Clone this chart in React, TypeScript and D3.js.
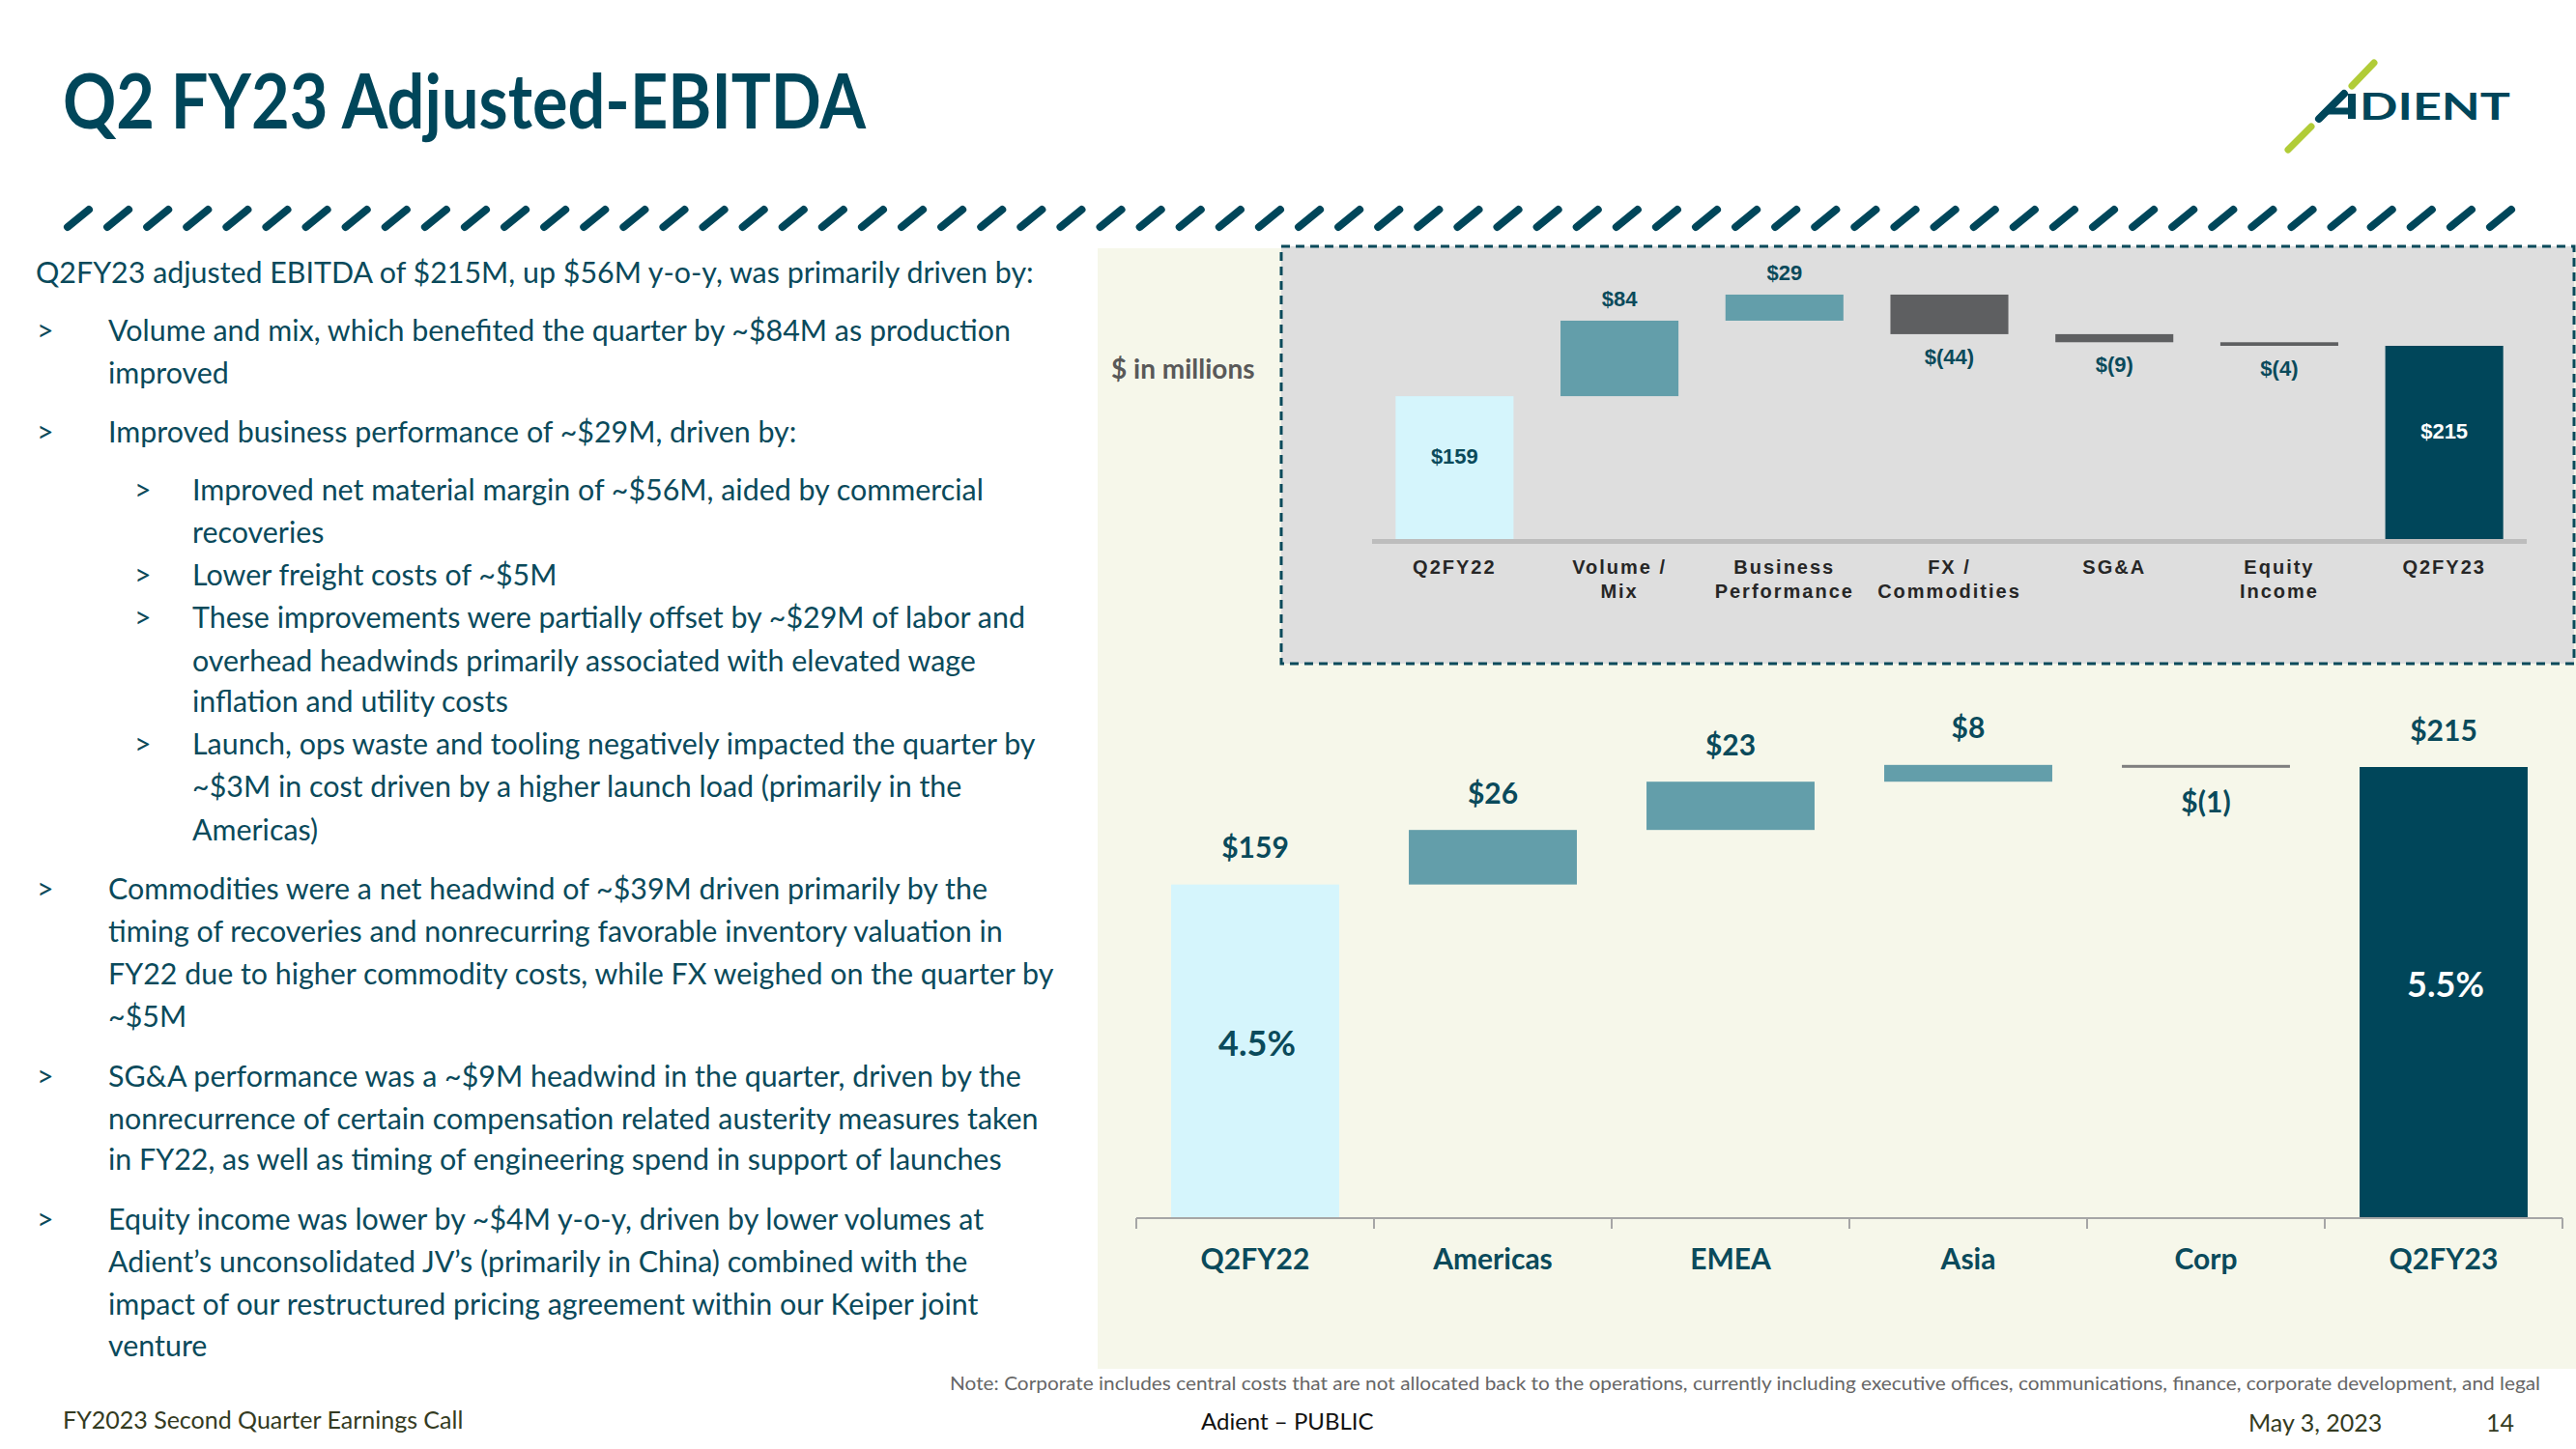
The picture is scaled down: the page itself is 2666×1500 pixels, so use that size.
import React from "react";
import * as d3 from "d3";

// ---------- DATA ----------
const mainCategories = ["Q2FY22", "Americas", "EMEA", "Asia", "Corp", "Q2FY23"];
const mainValues = [159, 26, 23, 8, -1, 215];
const mainIsTotal = [true, false, false, false, false, true];
const mainLabels = ["$159", "$26", "$23", "$8", "$(1)", "$215"];
const mainMargins = ["4.5%", "", "", "", "", "5.5%"];

const insetCategories = [["Q2FY22"], ["Volume /", "Mix"], ["Business", "Performance"], ["FX /", "Commodities"], ["SG&A"], ["Equity", "Income"], ["Q2FY23"]];
const insetValues = [159, 84, 29, -44, -9, -4, 215];
const insetIsTotal = [true, false, false, false, false, false, true];
const insetLabels = ["$159", "$84", "$29", "$(44)", "$(9)", "$(4)", "$215"];

const bodyLines: [number, boolean, string][] = [
  // [level, hasBullet, text]
  [0, false, "Q2FY23 adjusted EBITDA of $215M, up $56M y-o-y, was primarily driven by:"],
  [1, true, "Volume and mix, which benefited the quarter by ~$84M as production"],
  [1, false, "improved"],
  [1, true, "Improved business performance of ~$29M, driven by:"],
  [2, true, "Improved net material margin of ~$56M, aided by commercial"],
  [2, false, "recoveries"],
  [2, true, "Lower freight costs of ~$5M"],
  [2, true, "These improvements were partially offset by ~$29M of labor and"],
  [2, false, "overhead headwinds primarily associated with elevated wage"],
  [2, false, "inflation and utility costs"],
  [2, true, "Launch, ops waste and tooling negatively impacted the quarter by"],
  [2, false, "~$3M in cost driven by a higher launch load (primarily in the"],
  [2, false, "Americas)"],
  [1, true, "Commodities were a net headwind of ~$39M driven primarily by the"],
  [1, false, "timing of recoveries and nonrecurring favorable inventory valuation in"],
  [1, false, "FY22 due to higher commodity costs, while FX weighed on the quarter by"],
  [1, false, "~$5M"],
  [1, true, "SG&A performance was a ~$9M headwind in the quarter, driven by the"],
  [1, false, "nonrecurrence of certain compensation related austerity measures taken"],
  [1, false, "in FY22, as well as timing of engineering spend in support of launches"],
  [1, true, "Equity income was lower by ~$4M y-o-y, driven by lower volumes at"],
  [1, false, "Adient\u2019s unconsolidated JV\u2019s (primarily in China) combined with the"],
  [1, false, "impact of our restructured pricing agreement within our Keiper joint"],
  [1, false, "venture"],
];
const bodyLineY = [282, 342, 386, 447, 507, 551, 595, 639, 684, 726, 770, 814, 859, 920, 964, 1008, 1052, 1114, 1158, 1200, 1262, 1306, 1350, 1393];

const titleText = "Q2 FY23 Adjusted-EBITDA";
const noteText = "Note: Corporate includes central costs that are not allocated back to the operations, currently including executive offices, communications, finance, corporate development, and legal";
const footerLeft = "FY2023 Second Quarter Earnings Call";
const footerCenter = "Adient \u2013 PUBLIC";
const footerDate = "May 3, 2023";
const footerPage = "14";
const slashCount = 62;

// ---------- STYLE ----------
const TEAL = "#0A4A5B";
const DARK = "#00465A";
const LIGHT = "#D5F5FC";
const MID = "#639EAA";
const GRAY_BAR = "#5E5F61";
const FONT = "Lato, 'Open Sans', sans-serif";
const ARIAL = "'Liberation Sans', Arial, sans-serif";

function waterfall(values: number[], totals: boolean[]) {
  let run = 0;
  return values.map((v, i) => {
    if (totals[i]) {
      run = v;
      return { start: 0, end: v };
    }
    const s = run;
    run += v;
    return { start: s, end: run };
  });
}

export default function App() {
  // Main chart scales
  const xMain = d3.scaleBand<string>().domain(mainCategories).range([1176, 2652]).paddingInner(0.293).paddingOuter(0.1465);
  const yMain = d3.scaleLinear().domain([0, 215]).range([1261, 794]);
  const mainSteps = waterfall(mainValues, mainIsTotal);

  // Inset scales
  const insetKeys = insetCategories.map((c) => c.join(" "));
  const xIn = d3.scaleBand<string>().domain(insetKeys).range([1420, 2615]).paddingInner(0.285).paddingOuter(0.1425);
  const yIn = d3.scaleLinear().domain([0, 215]).range([558, 358]);
  const inSteps = waterfall(insetValues, insetIsTotal);

  const gap = (xMain.step() - xMain.bandwidth()) / 2;
  const mainTicks = mainCategories.map((c) => xMain(c)! - gap).concat([xMain(mainCategories[mainCategories.length - 1])! + xMain.bandwidth() + gap]);

  const slashStep = (2575 - 68) / (slashCount - 1);

  return (
    <svg width={2666} height={1500} style={{ position: "absolute", left: 0, top: 0, display: "block", background: "#fff" }}>
      <rect x={0} y={0} width={2666} height={1500} fill="#fff" />
      {/* Title */}
      <text x={65} y={133} fontFamily={FONT} fontWeight={700} fontSize={78} fill={DARK} textLength={831} lengthAdjust="spacingAndGlyphs">{titleText}</text>

      {/* Logo */}
      <g strokeLinecap="round" fill="none">
        <line x1={2457} y1={65} x2={2434} y2={89} stroke="#B1CC37" strokeWidth={7} />
        <line x1={2392} y1={131} x2={2368} y2={155} stroke="#B1CC37" strokeWidth={7} />
        <line x1={2426} y1={97} x2={2400} y2={123} stroke={DARK} strokeWidth={8} />
        <line x1={2434} y1={97} x2={2434} y2={123} stroke={DARK} strokeWidth={8} strokeLinecap="butt" />
        <line x1={2408} y1={115} x2={2434} y2={115} stroke={DARK} strokeWidth={7} strokeLinecap="butt" />
      </g>
      <text x={2442} y={124} fontFamily={FONT} fontWeight={700} fontSize={39} fill={DARK} textLength={156} lengthAdjust="spacingAndGlyphs">DIENT</text>

      {/* Slash band */}
      <g stroke={DARK} strokeWidth={8} strokeLinecap="round">
        {d3.range(slashCount).map((i) => {
          const x = 70 + i * slashStep;
          return <line key={i} x1={x} y1={235} x2={x + 22} y2={217} />;
        })}
      </g>

      {/* Body text */}
      <g fontFamily={FONT} fontSize={30.4} fill={TEAL}>
        {bodyLines.map(([lvl, bullet, t], i) => {
          const y = bodyLineY[i];
          const tx = lvl === 0 ? 37 : lvl === 1 ? 112 : 199;
          const bx = lvl === 1 ? 38 : 139;
          return (
            <g key={i}>
              {bullet && <text x={bx} y={y} dy="0.35em">&gt;</text>}
              <text x={tx} y={y} dy="0.35em">{t}</text>
            </g>
          );
        })}
      </g>

      {/* Right panel background */}
      <rect x={1136} y={257} width={1530} height={1160} fill="#F6F7EA" />

      {/* Inset box */}
      <rect x={1326} y={255} width={1338} height={432} fill="#DEDEDE" stroke={TEAL} strokeWidth={3} strokeDasharray="9 6" />
      <text x={1150} y={382} dy="0.35em" fontFamily={FONT} fontWeight={700} fontSize={28} fill="#595959">$ in millions</text>

      {/* Inset bars */}
      {inSteps.map((s, i) => {
        const k = insetKeys[i];
        const y0 = yIn(Math.max(s.start, s.end));
        const y1 = yIn(Math.min(s.start, s.end));
        const fill = insetIsTotal[i] ? (i === 0 ? LIGHT : DARK) : insetValues[i] >= 0 ? MID : GRAY_BAR;
        return <rect key={k} x={xIn(k)} y={y0} width={xIn.bandwidth()} height={Math.max(y1 - y0, 3)} fill={fill} />;
      })}
      <rect x={1420} y={558} width={1195} height={5} fill="#BDBDBD" />
      {inSteps.map((s, i) => {
        const k = insetKeys[i];
        const cx = xIn(k)! + xIn.bandwidth() / 2;
        let y: number;
        let fill = TEAL;
        if (insetIsTotal[i]) {
          y = (yIn(s.end) + yIn(0)) / 2 - 12;
          if (i !== 0) fill = "#fff";
        } else if (insetValues[i] >= 0) {
          y = yIn(s.end) - 23;
        } else {
          y = yIn(s.end) + 23;
        }
        return (
          <text key={"l" + k} x={cx} y={y} dy="0.35em" textAnchor="middle" fontFamily={ARIAL} fontWeight={700} fontSize={22} fill={fill}>
            {insetLabels[i]}
          </text>
        );
      })}
      {insetCategories.map((lines, i) => {
        const k = insetKeys[i];
        const cx = xIn(k)! + xIn.bandwidth() / 2;
        return (
          <text key={"c" + k} textAnchor="middle" fontFamily={ARIAL} fontWeight={700} fontSize={20} letterSpacing={2} fill="#262626">
            {lines.map((ln, j) => (
              <tspan key={j} x={cx} y={587 + j * 25} dy="0.35em">{ln}</tspan>
            ))}
          </text>
        );
      })}

      {/* Main bars */}
      {mainSteps.map((s, i) => {
        const c = mainCategories[i];
        const y0 = yMain(Math.max(s.start, s.end));
        const y1 = yMain(Math.min(s.start, s.end));
        const fill = mainIsTotal[i] ? (i === 0 ? LIGHT : DARK) : mainValues[i] >= 0 ? MID : "#7F7F7F";
        return <rect key={c} x={xMain(c)} y={y0} width={xMain.bandwidth()} height={Math.max(y1 - y0, 3)} fill={fill} />;
      })}
      {/* Main axis */}
      <line x1={1176} y1={1261} x2={2652} y2={1261} stroke="#A6A6A6" strokeWidth={2} />
      {mainTicks.map((t, i) => (
        <line key={"t" + i} x1={t} y1={1261} x2={t} y2={1272} stroke="#A6A6A6" strokeWidth={2} />
      ))}
      {mainSteps.map((s, i) => {
        const c = mainCategories[i];
        const cx = xMain(c)! + xMain.bandwidth() / 2;
        const top = yMain(Math.max(s.start, s.end));
        const bottom = yMain(Math.min(s.start, s.end));
        const y = mainValues[i] >= 0 ? top - 38 : bottom + 36;
        return (
          <g key={"ml" + c}>
            <text x={cx} y={y} dy="0.35em" textAnchor="middle" fontFamily={FONT} fontWeight={700} fontSize={30} fill={TEAL}>{mainLabels[i]}</text>
            {mainMargins[i] && (
              <text x={cx + 2} y={(top + bottom) / 2 - 8} dy="0.35em" textAnchor="middle" fontFamily={FONT} fontWeight={700} fontSize={36} fill={i === 0 ? TEAL : "#fff"}>{mainMargins[i]}</text>
            )}
            <text x={cx} y={1303} dy="0.35em" textAnchor="middle" fontFamily={FONT} fontWeight={700} fontSize={30} fill={TEAL}>{c}</text>
          </g>
        );
      })}

      {/* Note and footer */}
      <text x={983} y={1432} dy="0.35em" fontFamily={FONT} fontSize={19} fill="#666666" textLength={1646} lengthAdjust="spacingAndGlyphs">{noteText}</text>
      <text x={65} y={1470} dy="0.35em" fontFamily={FONT} fontSize={25} fill="#343B22">{footerLeft}</text>
      <text x={1243} y={1472} dy="0.35em" fontFamily={FONT} fontSize={24} fill="#111">{footerCenter}</text>
      <text x={2327} y={1473} dy="0.35em" fontFamily={FONT} fontSize={25} fill="#343B22">{footerDate}</text>
      <text x={2573} y={1473} dy="0.35em" fontFamily={FONT} fontSize={25} fill="#343B22">{footerPage}</text>
    </svg>
  );
}
